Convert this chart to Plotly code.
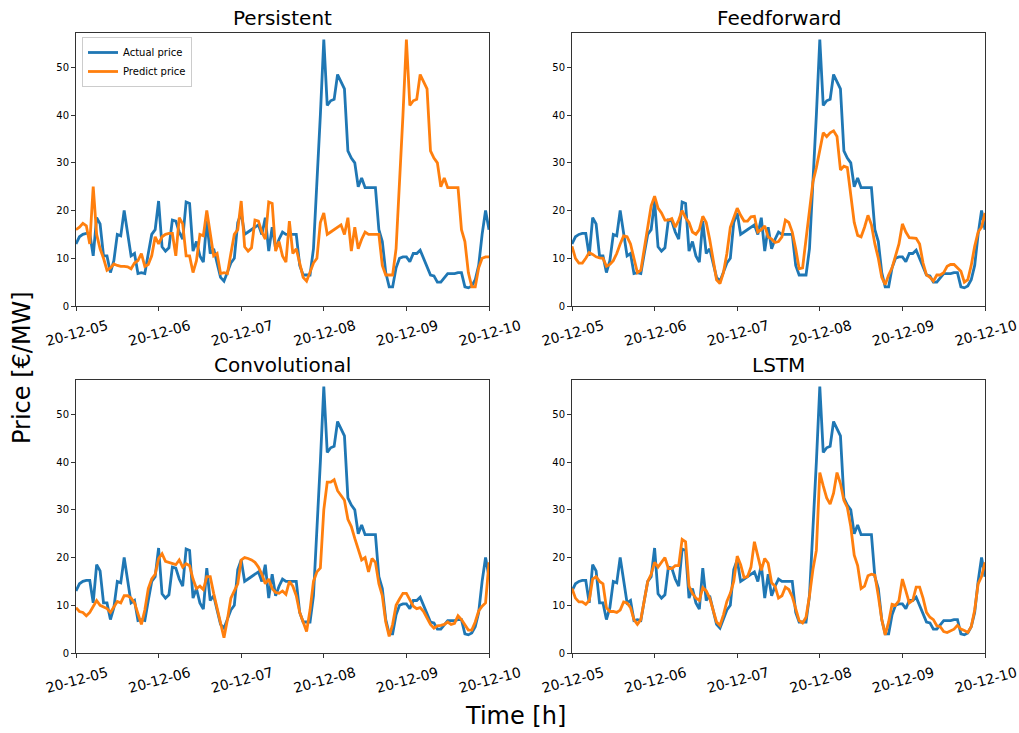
import pandas as pd
import plotly.graph_objects as go

# ---------------- data (hourly, 2020-12-05 00:00 .. 2020-12-10 00:00) ----------------
start_time = "2020-12-05 00:00"
n_hours = 121

actual_price = [
    13, 14.5, 15, 15.2, 15.2, 10.5, 18.5, 17.2, 10.5, 10.5, 7, 9.5, 15, 14.7, 20, 15, 10.5, 11, 6.8, 7, 6.8, 11, 15, 16,
    22, 12.4, 11.5, 12.2, 18, 17.8, 15.5, 14, 21.8, 21.5, 11.5, 13.5, 10.5, 9.2, 17.8, 11, 12, 9, 6, 5.2, 7, 9, 10, 17.5,
    19.5, 15, 15.5, 16, 16.5, 17, 15, 18.5, 11.5, 16.5, 12, 14, 15.5, 15, 15, 15, 15, 8.5, 6.5, 6.5, 6.5, 12, 25, 40,
    55.8, 42, 43, 43.3, 48.5, 47, 45.5, 32.5, 31, 30, 25, 26.8, 24.8, 24.8, 24.8, 24.8, 16, 13.5, 7, 4, 4, 8, 10, 10.3,
    10.3, 9.3, 11, 11, 11.7, 10, 8.2, 6.5, 6.3, 5, 5, 6, 6.8, 6.8, 6.8, 7, 7, 4, 3.8, 4.2, 5.5, 8.5, 15, 20, 16,
]

persistent_pred = [
    16, 16.5, 17.3, 16.8, 13, 25, 15, 12, 10, 7.5, 8, 8.8, 8.5, 8.3, 8.3, 8.2, 7.8, 9, 9.5, 11, 8.3, 8.7, 10.5, 14.5,
    13, 14.5, 15, 15.2, 15.2, 10.5, 18.5, 17.2, 10.5, 10.5, 7, 9.5, 15, 14.7, 20, 15, 10.5, 11, 6.8, 7, 6.8, 11, 15, 16,
    22, 12.4, 11.5, 12.2, 18, 17.8, 15.5, 14, 21.8, 21.5, 11.5, 13.5, 10.5, 9.2, 17.8, 11, 12, 9, 6, 5.2, 7, 9, 10, 17.5,
    19.5, 15, 15.5, 16, 16.5, 17, 15, 18.5, 11.5, 16.5, 12, 14, 15.5, 15, 15, 15, 15, 8.5, 6.5, 6.5, 6.5, 12, 25, 40,
    55.8, 42, 43, 43.3, 48.5, 47, 45.5, 32.5, 31, 30, 25, 26.8, 24.8, 24.8, 24.8, 24.8, 16, 13.5, 7, 4, 4, 8, 10, 10.3,
    10.3,
]

feedforward_pred = [
    12.5, 10, 9, 9, 10, 11.2, 10.8, 10.3, 10.1, 10, 8.3, 8.7, 9.5, 11, 13, 14.7, 14.5, 13, 10, 7, 7.5, 12, 17, 21,
    23, 20.5, 19.5, 18, 18, 18.3, 16.5, 18, 20, 18.5, 17.5, 15.5, 15, 16, 18.8, 17.5, 14, 10, 5.5, 4.7, 7, 11, 16.5, 18.5,
    20.5, 19, 17.8, 17.8, 18.7, 18.8, 15.5, 16, 16.8, 14.5, 14, 13.3, 13.5, 14.5, 18, 17.5, 15.5, 12, 7.8, 8, 14, 20, 26, 29,
    33, 36.3, 35.5, 36.3, 36.7, 35.5, 28.5, 29.3, 29, 23, 17.5, 14.8, 14.5, 16.5, 19, 17, 13, 10, 6, 4.5, 6.5, 8, 10.5, 13,
    17.2, 15.5, 14.3, 14.3, 14.2, 13, 9, 6.5, 6, 5.2, 6.5, 6.5, 7, 8.3, 8.7, 8.7, 8, 7.3, 5, 5.5, 8.5, 12.5, 15.5, 16.5, 19.5,
]

convolutional_pred = [
    9.5, 8.7, 8.5, 7.8, 8.5, 9.8, 11, 10, 9.7, 9.3, 8.5, 9.8, 10.8, 10.5, 12, 12, 11.5, 10.5, 8, 6, 9, 13.5, 15.5, 16.5,
    19.8, 20.8, 19.2, 19, 18.8, 18.5, 19.5, 18, 18.7, 18.3, 15.5, 13.5, 14, 13.3, 16, 16, 12.5, 9.5, 6, 3.2, 7, 11.5, 13, 14.5,
    19.5, 20, 19.8, 19.5, 19, 18, 16.5, 14.5, 15.5, 13.5, 12.7, 12.5, 13, 12.3, 15, 14, 12, 8.5, 6.5, 4.5, 9, 15, 17, 17.8,
    30, 35.8, 35.8, 36.3, 34, 33, 32, 28, 26.5, 24, 21.5, 19.5, 20, 17, 19.8, 19, 14.5, 12, 6.5, 3.5, 6, 10, 11.3, 12.5,
    12.5, 11, 9.8, 9.3, 9.5, 8.7, 7.5, 6, 5.2, 5.7, 5.8, 6, 6.5, 6, 6.2, 7.8, 7, 6, 4.8, 4.8, 6.5, 8.8, 9.8, 10.5, 19,
]

lstm_pred = [
    13.5, 11.5, 10.7, 10.7, 10.2, 11, 15.5, 16, 15, 14.5, 9.5, 8.7, 8.7, 8.5, 9, 10.7, 10.5, 9.5, 7, 6, 7, 11, 15, 16.5,
    19, 18, 19, 20, 17.7, 17.7, 18.3, 18.3, 23.8, 23.3, 14, 12.5, 11.5, 11, 13.7, 13, 11.5, 9, 6.5, 5.8, 8, 10.8, 12.5, 15,
    20.3, 18.5, 15.8, 16, 18, 23.3, 20, 17.3, 19.8, 18.8, 14.7, 14, 11.5, 12, 13.8, 13.3, 11.8, 9, 6.8, 6.3, 7.5, 12, 17.5, 21.5,
    37.8, 35, 32.5, 31.2, 33.5, 37.8, 35.5, 32, 30.5, 26.5, 20.5, 18.3, 13.5, 14, 16.2, 16.5, 16.3, 12, 7, 3.8, 6.5, 10.2, 10, 11,
    15.5, 13, 10.5, 11, 13.8, 13.8, 11.5, 8.5, 7.5, 7, 5.7, 5.5, 4.5, 4.3, 4.7, 5, 5.8, 5, 4.7, 4.3, 5.5, 9, 14.5, 16, 19,
]

panel_titles = ["Persistent", "Feedforward", "Convolutional", "LSTM"]
panel_preds = [persistent_pred, feedforward_pred, convolutional_pred, lstm_pred]
x_tick_dates = ["2020-12-05", "2020-12-06", "2020-12-07", "2020-12-08", "2020-12-09", "2020-12-10"]
y_tick_values = [0, 10, 20, 30, 40, 50]
series_names = ["Actual price", "Predict price"]

# ---------------- figure ----------------
times = pd.date_range(start_time, periods=n_hours, freq="h")

W, H = 1019, 733
FONT = "DejaVu Sans"
BLUE, ORANGE = "#1f77b4", "#ff7f0e"

# plot-area pixel boxes (left, right, top, bottom)
boxes = [(76, 489, 33, 306), (572, 985, 33, 306), (76, 489, 380, 653), (572, 985, 380, 653)]

fig = go.Figure()
for i, (pred, title) in enumerate(zip(panel_preds, panel_titles)):
    ax = "" if i == 0 else str(i + 1)
    fig.add_trace(go.Scatter(x=times, y=actual_price, mode="lines", name=series_names[0],
                             line=dict(color=BLUE, width=2.8), xaxis="x" + ax, yaxis="y" + ax,
                             showlegend=(i == 0)))
    fig.add_trace(go.Scatter(x=times, y=pred[:len(times)], mode="lines", name=series_names[1],
                             line=dict(color=ORANGE, width=2.8), xaxis="x" + ax, yaxis="y" + ax,
                             showlegend=(i == 0)))
    l, r, t, b = boxes[i]
    common = dict(showline=True, linecolor="#333333", linewidth=1, mirror=True,
                  ticks="outside", ticklen=4, tickwidth=1, tickcolor="#333333",
                  showgrid=False, zeroline=False, automargin=False)
    fig.layout["xaxis" + ax] = dict(
        domain=[l / W, r / W], anchor="y" + ax, type="date",
        range=[x_tick_dates[0], x_tick_dates[-1]],
        tickvals=x_tick_dates, tickformat="%y-%m-%d", tickangle=-15,
        ticklabelshift=31, ticklabelstandoff=2, ticklabeloverflow="allow",
        tickfont=dict(family=FONT, size=14, color="#000000"), **common)
    fig.layout["yaxis" + ax] = dict(
        domain=[1 - b / H, 1 - t / H], anchor="x" + ax, range=[0, 57.2],
        tickvals=y_tick_values, tickfont=dict(family=FONT, size=10, color="#000000"), **common)
    fig.add_annotation(text=title, x=(l + r) / 2 / W, y=1 - (t - 15) / H, xref="paper", yref="paper",
                       showarrow=False, font=dict(family=FONT, size=20, color="#000000"),
                       xanchor="center", yanchor="middle")

fig.add_annotation(text="Price [€/MW]", x=22 / W, y=1 - 368 / H, xref="paper", yref="paper",
                   showarrow=False, textangle=-90, font=dict(family=FONT, size=24, color="#000000"),
                   xanchor="center", yanchor="middle")
fig.add_annotation(text="Time [h]", x=515 / W, y=1 - 716 / H, xref="paper", yref="paper",
                   showarrow=False, font=dict(family=FONT, size=24, color="#000000"),
                   xanchor="center", yanchor="middle")

fig.update_layout(
    width=W, height=H, margin=dict(l=0, r=0, t=0, b=0, autoexpand=False),
    paper_bgcolor="white", plot_bgcolor="white",
    font=dict(family=FONT, color="#000000"),
    legend=dict(x=82 / W, y=1 - 37 / H, xanchor="left", yanchor="top",
                bgcolor="rgba(255,255,255,0.8)", bordercolor="#cccccc", borderwidth=1,
                font=dict(family=FONT, size=10, color="#000000"), tracegroupgap=0,
                itemwidth=30),
)

fig.write_html("out.html")
